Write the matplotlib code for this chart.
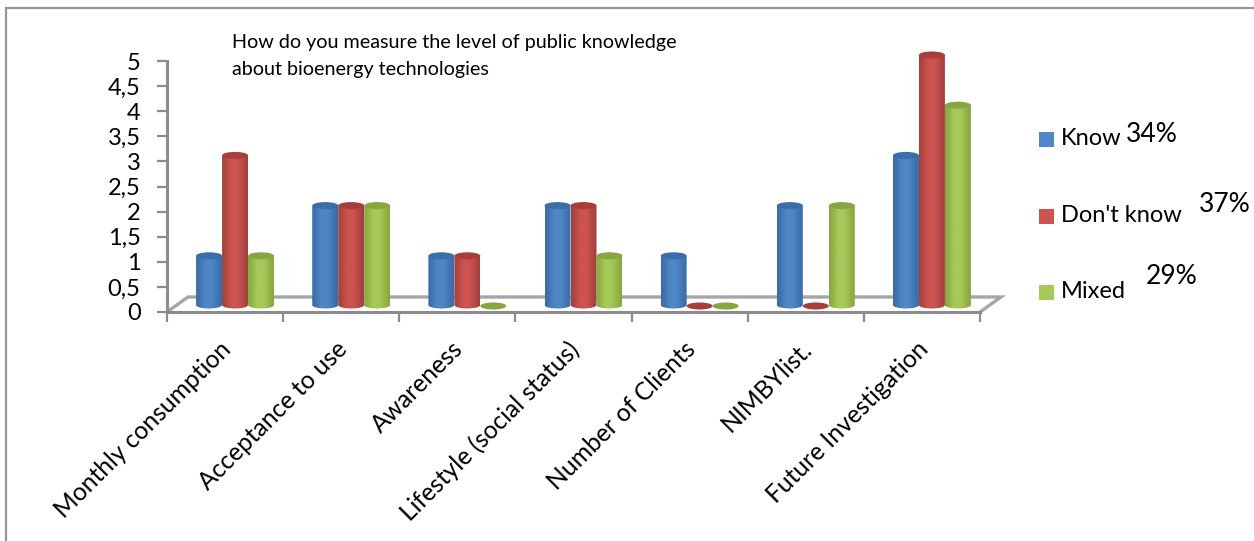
import numpy as np
import matplotlib
matplotlib.use("Agg")
import matplotlib.pyplot as plt
from matplotlib.colors import LinearSegmentedColormap
from matplotlib.patches import Ellipse, PathPatch, Rectangle
from matplotlib.path import Path

plt.rcParams['font.family'] = ['Lato', 'DejaVu Sans']

categories = ['Monthly consumption', 'Acceptance to use', 'Awareness', 'Lifestyle (social status)',
              'Number of Clients', 'NIMBYlist.', 'Future Investigation']
know = [1, 2, 1, 2, 1, 2, 3]
dont_know = [3, 2, 1, 2, 0, 0, 5]
mixed = [1, 2, 0, 1, 0, 2, 4]
series_names = ['Know', "Don't know", 'Mixed']
series_share = ['34%', '37%', '29%']
y_ticks = [0, 0.5, 1, 1.5, 2, 2.5, 3, 3.5, 4, 4.5, 5]
y_labels = ['0', '0,5', '1', '1,5', '2', '2,5', '3', '3,5', '4', '4,5', '5']
title_lines = ['How do you measure the level of public knowledge', 'about bioenergy technologies']

W, H = 1254, 541
GREY = '#a6a6a6'
AXIS = '#8c8c8c'
# dark edge, light middle, top colour
colors = [('#3a6aa3', '#4f86c6', '#3a6ea8'),
          ('#a03f3c', '#cc5350', '#a83e3b'),
          ('#86a53f', '#a6c95a', '#87a63f')]


def px(x0, y0, x1, y1):
    return [x0 / W, 1 - y1 / H, (x1 - x0) / W, (y1 - y0) / H]


def cylinder(ax, x, w, base, top, cols):
    # x and w are in category units, base and top in y units
    cap = 0.07
    if top - base > 0.01:
        k = 0.5523
        verts = [(x - w / 2, top), (x - w / 2, base),
                 (x - w / 2, base - cap * k), (x - w / 2 * k, base - cap), (x, base - cap),
                 (x + w / 2 * k, base - cap), (x + w / 2, base - cap * k), (x + w / 2, base),
                 (x + w / 2, top), (x - w / 2, top)]
        codes = [Path.MOVETO, Path.LINETO, Path.CURVE4, Path.CURVE4, Path.CURVE4,
                 Path.CURVE4, Path.CURVE4, Path.CURVE4, Path.LINETO, Path.CLOSEPOLY]
        shape = PathPatch(Path(verts, codes), fc='none', ec='none', zorder=3)
        ax.add_patch(shape)
        cmap = LinearSegmentedColormap.from_list('c', [(0, cols[0]), (0.35, cols[1]), (0.6, cols[1]), (1, cols[0])])
        im = ax.imshow(np.linspace(0, 1, 64).reshape(1, -1), cmap=cmap, aspect='auto',
                       extent=(x - w / 2, x + w / 2, base - cap, top), zorder=3)
        im.set_clip_path(shape)
        # the tallest bar pokes out above the axes
        im.set_clip_box(ax.figure.bbox)
    ax.add_patch(Ellipse((x, top), w, 2 * cap, fc=cols[2], ec='none', zorder=4, clip_on=False))


fig = plt.figure(figsize=(W / 100, H / 100), dpi=100)

# only the top and left of the outer frame are in the picture
bg = fig.add_axes([0, 0, 1, 1])
bg.set_xlim(0, W)
bg.set_ylim(H, 0)
bg.axis('off')
bg.plot([6, 6, W], [H, 7.5, 7.5], color='#969696', lw=1.6, solid_joinstyle='miter')

ax = fig.add_axes(px(167, 61, 980, 312))
ax.patch.set_visible(False)
for s in ['top', 'right']:
    ax.spines[s].set_visible(False)
for s in ['left', 'bottom']:
    ax.spines[s].set_color(AXIS)
    ax.spines[s].set_linewidth(2.2)

n = len(categories)
xs = np.arange(n) + 0.5

# floor of the 3d box
dx, dy = 21 / 116.2, 15 / 50.2
ax.plot([0, dx, n + dx, n], [0, dy, dy, 0], color=GREY, lw=2.4, clip_on=False, zorder=1, solid_joinstyle='miter')

bar_w = 26 / 116.2
off_x = 10 / 116.2
base_y, top_y = 7 / 50.2, 6 / 50.2
for i, vals in enumerate([know, dont_know, mixed]):
    for x, v in zip(xs, vals):
        cylinder(ax, x + off_x + (i - 1) * bar_w, bar_w, base_y, v + top_y, colors[i])

ax.set_xlim(0, n)
ax.set_ylim(0, 5)
ax.set_yticks(y_ticks)
ax.set_yticklabels(y_labels, fontsize=17, color='black')
ax.set_xticks(np.arange(n + 1))
ax.set_xticks(xs - 6 / 116.2, minor=True)
ax.set_xticklabels([])
ax.set_xticklabels(categories, minor=True, rotation=45, ha='right', va='top', rotation_mode='anchor',
                   fontsize=17.7, color='black')
ax.tick_params(axis='y', length=7, width=1.6, color=AXIS, pad=12)
ax.tick_params(axis='x', which='major', length=7, width=1.6, color=AXIS)
ax.tick_params(axis='x', which='minor', length=0, pad=18)

# title sits inside the plot, top left
for line, y in zip(title_lines, [48, 75]):
    bg.text(232, y, line, fontsize=14.2, va='baseline', ha='left', color='black')

# legend with hand placed percentages
legend_y = [139.5, 216.5, 292.5]
share_xy = [(1152, 135), (1225, 205), (1172, 277)]
for i, name in enumerate(series_names):
    bg.add_patch(Rectangle((1039, legend_y[i] - 7.5), 15, 15, fc=colors[i][1], ec='none'))
    bg.text(1061, legend_y[i] - 1, name, fontsize=17, va='center', ha='left', color='black')
    bg.text(share_xy[i][0], share_xy[i][1], series_share[i], fontsize=19, va='center', ha='center', color='black')

fig.savefig('out.png', dpi=100)
